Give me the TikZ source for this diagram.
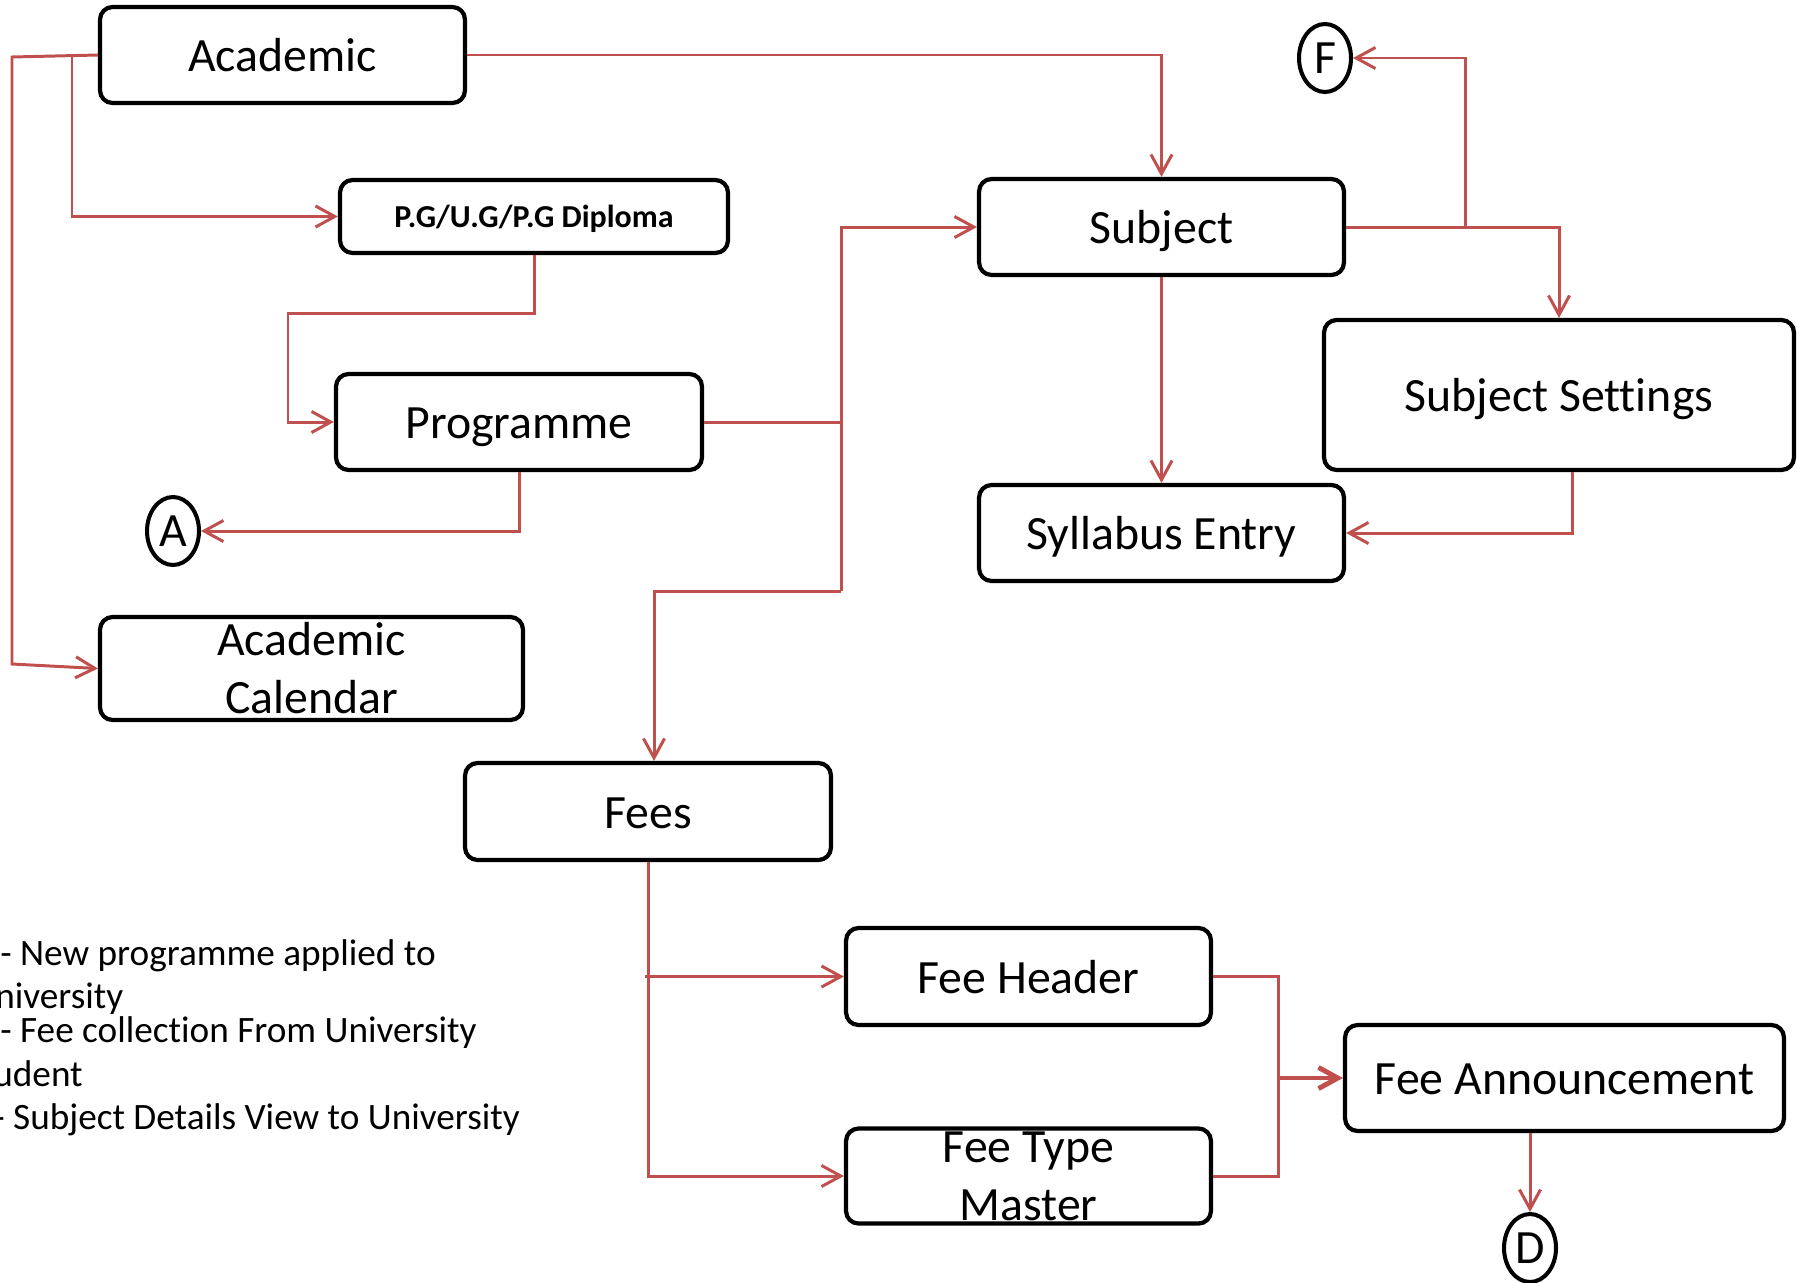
\documentclass[tikz,border=0pt]{standalone}
\usepackage{fontspec}
\setmainfont{Carlito}[Ligatures=NoCommon]
\usetikzlibrary{arrows.meta, shapes.geometric}

\definecolor{flowred}{RGB}{192,80,77}

\tikzset{
  box/.style={draw, line width=2.4pt, rounded corners=0.25cm, align=center,
    font=\fontsize{27.2}{33}\selectfont, inner sep=0pt},
  line/.style={text height=19pt, text depth=0pt},
  conn/.style={draw, ellipse, line width=2.3pt, inner sep=0pt,
    minimum width=1.04cm, minimum height=1.36cm, font=\fontsize{27.2}{33}\selectfont},
  flow/.style={flowred, line width=1.7pt},
  note/.style={anchor=mid west, inner sep=0pt, font=\fontsize{21.2}{25}\selectfont}
}

\begin{document}
\begin{tikzpicture}[x=0.02cm, y=-0.02cm, >={Straight Barb[length=11pt,width=12pt]}]
  \useasboundingbox (0,0) rectangle (1797,1282);

  % boxes
  \node[box, line, minimum width=7.3cm, minimum height=1.92cm] (acad) at (282.5,55) {Academic};
  \node[box, minimum width=7.76cm, minimum height=1.46cm, text height=12.7pt, text depth=0pt,
    font=\fontsize{18.2}{22}\selectfont\bfseries] (pgug) at (534,216.5) {P.G/U.G/P.G Diploma};
  \node[box, line, minimum width=7.32cm, minimum height=1.92cm] (prog) at (519,422) {Programme};
  \node[conn] (A) at (173,531) {A};
  \node[box, minimum width=8.46cm, minimum height=2.06cm] (acal) at (311.5,668.5) {Academic\\Calendar};
  \node[box, line, minimum width=7.3cm, minimum height=1.92cm] (subj) at (1161.5,227) {Subject};
  \node[conn] (F) at (1325,58) {F};
  \node[box, line, minimum width=9.4cm, minimum height=3cm] (sset) at (1559,395) {Subject Settings};
  \node[box, line, minimum width=7.3cm, minimum height=1.92cm] (syl) at (1161.5,533) {Syllabus Entry};
  \node[box, line, minimum width=7.32cm, minimum height=1.94cm] (fees) at (648,811.5) {Fees};
  \node[box, line, minimum width=7.3cm, minimum height=1.94cm] (fhead) at (1028.5,976.5) {Fee Header};
  \node[box, minimum width=7.3cm, minimum height=1.9cm] (ftm) at (1028.5,1176) {Fee Type\\Master};
  \node[box, line, minimum width=8.78cm, minimum height=2.12cm] (fann) at (1564.5,1078) {Fee Announcement};
  \node[conn] (D) at (1530,1248) {D};

  % bends
  \coordinate (lt) at (12,57);
  \coordinate (lb) at (12,664);
  \coordinate (pgsplit) at (72,56);
  \coordinate (pgbend) at (288,313);
  \coordinate (trunk) at (841,591);
  \coordinate (fsplit) at (1465,227);
  \coordinate (col) at (1278,1078);

  % connectors
  \draw[flow, ->] (acad.west) -- (lt) -- (lb) -- (acal.west);
  \draw[flow, ->] (pgsplit) |- (pgug.west);
  \draw[flow, ->] (acad.east) -| (subj.north);
  \draw[flow, ->] (pgug.south) |- (pgbend) |- (prog.west);
  \draw[flow, ->] (prog.south) |- (A.east);
  \draw[flow] (prog.east) -- (prog.east -| trunk);
  \draw[flow, ->] (trunk) |- (subj.west);
  \draw[flow, ->] (trunk) -| ([xshift=0.12cm]fees.north);
  \draw[flow, ->] (subj.south) -- (syl.north);
  \draw[flow, ->] (subj.east) -| (sset.north);
  \draw[flow, ->] (fsplit) |- (F.east);
  \draw[flow, ->] ([xshift=0.26cm]sset.south) |- (syl.east);
  \draw[flow, ->] (fees.south) |- (ftm.west);
  \draw[flow, ->] ([xshift=-0.06cm]fees.south |- fhead.west) -- (fhead.west);
  \draw[flow] (fhead.east) -| (col) |- (ftm.east);
  \draw[flow, line width=2.8pt, ->] (col) -- (fann.west);
  \draw[flow, ->] (fann.south -| D.north) -- (D.north);

  % notes
  \node[note] (n1) at (0,961) {- New programme applied to};
  \node[note] (n2) at (-5,1004) {niversity};
  \node[note] (n3) at (0,1038) {- Fee collection From University};
  \node[note] (n4) at (-7,1082) {udent};
  \node[note] (n5) at (-7,1125) {- Subject Details View to University};
\end{tikzpicture}
\end{document}
